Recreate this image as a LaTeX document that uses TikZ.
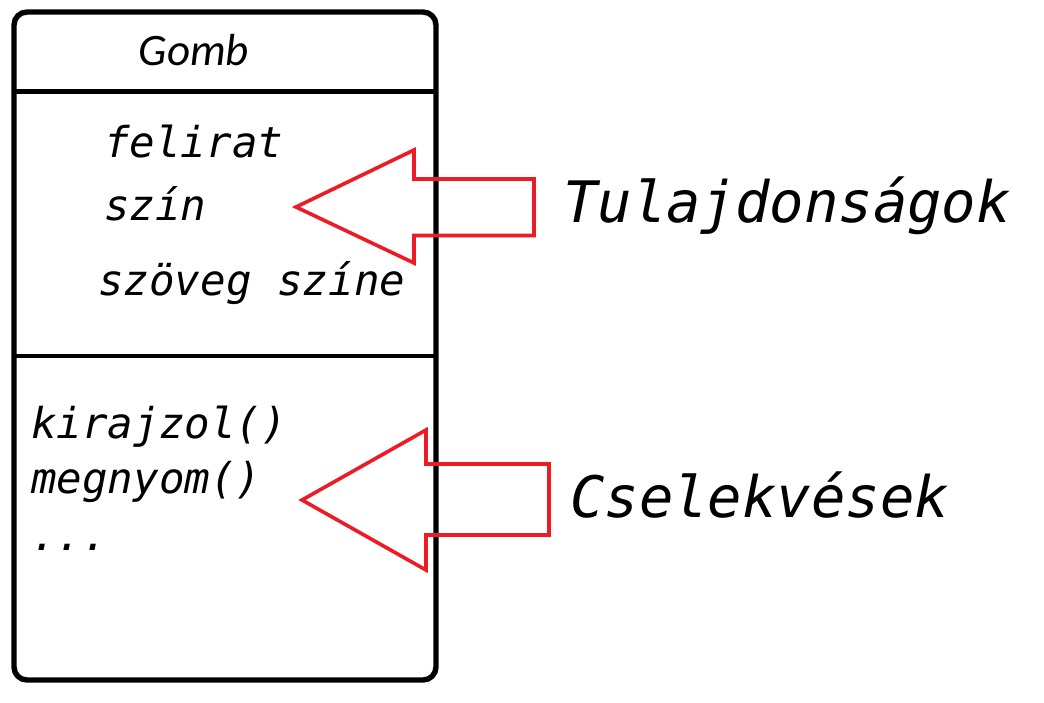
\documentclass[tikz,border=0pt]{standalone}
\usepackage{fontspec}
\newfontfamily\monoit{DejaVu Sans Mono Oblique}
\newfontfamily\gombfont{Carlito Italic}
\definecolor{pred}{HTML}{ED1C24}
\tikzset{
  box/.style={draw=black, line width=5.4pt, rounded corners=13pt},
  divider/.style={draw=black, line width=5pt},
  bigarrow/.style={draw=pred, line width=3.6pt, line join=miter},
  attr/.style={inner sep=0pt, anchor=base west, font=\monoit\fontsize{42.5}{50}\selectfont},
  lbl/.style={inner sep=0pt, anchor=base west, font=\monoit\fontsize{57.2}{66}\selectfont},
}
\begin{document}
\begin{tikzpicture}[x=1pt, y=-1pt]
\useasboundingbox (0,0) rectangle (1044,702);
\fill[white] (0,0) rectangle (1044,702);
% class box
\draw[box] (14,12) rectangle (436,680);
\draw[divider] (14,91) -- (436,91);
\draw[divider, line width=4.2pt] (14,356) -- (436,356);
\node[inner sep=0pt, anchor=base, font=\gombfont\fontsize{45}{52}\selectfont] (gomb) at (194,65) {Gomb};
% attributes
\node[attr] (felirat) at (104,157) {felirat};
\node[attr] (szin) at (104,220) {szín};
\node[attr] (szovegszine) at (98,295) {szöveg színe};
% methods
\node[attr] (kirajzol) at (31,438) {kirajzol()};
\node[attr] (megnyom) at (31,493) {megnyom()};
\node[attr] (dots) at (31,550) {...};
% arrows
\draw[bigarrow] (296,207) -- (414,150) -- (414,179) -- (534,179) -- (534,235.5) -- (414,235.5) -- (414,263) -- cycle;
\draw[bigarrow] (302,500) -- (426,430) -- (426,464) -- (549,464) -- (549,535) -- (426,535) -- (426,570) -- cycle;
% labels
\node[lbl] (tul) at (563,222) {Tulajdonságok};
\node[lbl] (csel) at (570,517) {Cselekvések};
\end{tikzpicture}
\end{document}
